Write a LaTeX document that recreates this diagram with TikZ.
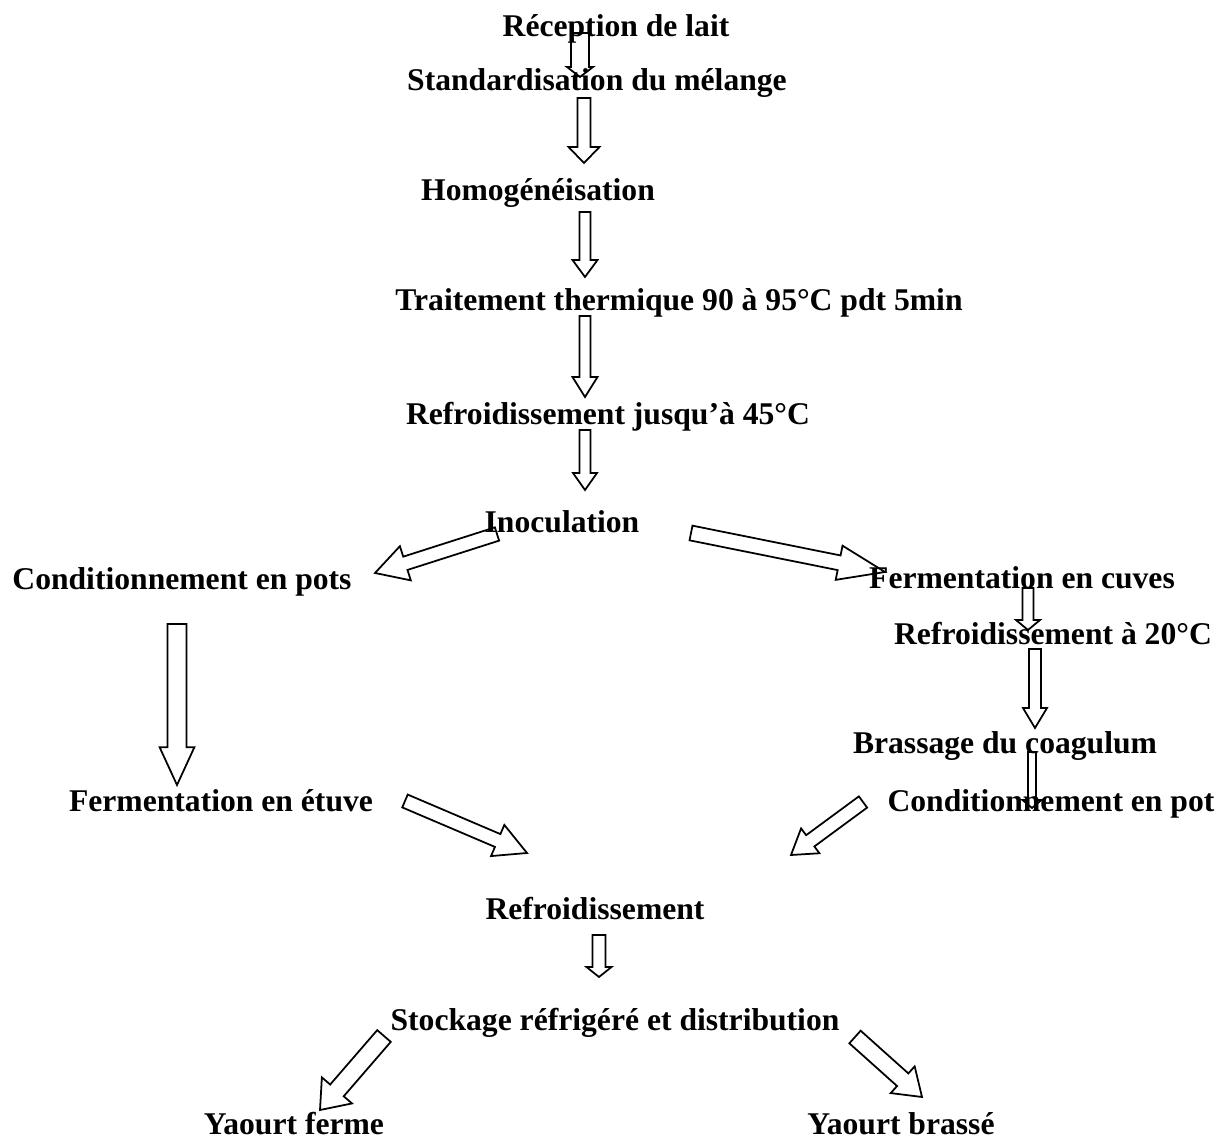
\documentclass[tikz,border=0pt]{standalone}
\usepackage{fontspec}
\setmainfont{Liberation Serif}
\usetikzlibrary{calc}
\def\pxu{0.5669pt}
% block arrow: tail, tip, shaft half width, head half width, head length (px)
\newcommand\blockarr[5]{%
  \coordinate (bh) at ($(#2)!#5*\pxu!(#1)$);
  \draw[blockarrow] ($(#1)!#3*\pxu!90:(#2)$) -- ($(bh)!#3*\pxu!-90:(#1)$)
    -- ($(bh)!#4*\pxu!-90:(#1)$) -- (#2) -- ($(bh)!#4*\pxu!90:(#1)$)
    -- ($(bh)!#3*\pxu!90:(#1)$) -- ($(#1)!#3*\pxu!-90:(#2)$) -- cycle;}
\tikzset{
  lbl/.style={anchor=base, inner sep=0pt, font=\bfseries\fontsize{18}{22}\selectfont},
  blockarrow/.style={draw=black, fill=white, line width=1pt, line join=miter}
}
\begin{document}
\begin{tikzpicture}[x=0.02cm,y=-0.02cm]
\path[use as bounding box] (0,0) rectangle (1225,1142);
% arrow end points
\coordinate (a1t) at (580,33);   \coordinate (a1p) at (580,77);
\coordinate (a2t) at (584,98);   \coordinate (a2p) at (584,163);
\coordinate (a3t) at (585,212);  \coordinate (a3p) at (585,277);
\coordinate (a4t) at (585,316);  \coordinate (a4p) at (585,397);
\coordinate (a5t) at (585,430);  \coordinate (a5p) at (585,490);
\coordinate (l1t) at (177,624);  \coordinate (l1p) at (177,785);
\coordinate (r1t) at (1028,588); \coordinate (r1p) at (1028,630);
\coordinate (r2t) at (1035,649); \coordinate (r2p) at (1035,728);
\coordinate (r3t) at (1032,752); \coordinate (r3p) at (1032,808);
\coordinate (b1t) at (599,935);  \coordinate (b1p) at (599,977);
\coordinate (d1t) at (497,534);  \coordinate (d1p) at (375,573);
\coordinate (d2t) at (691,533);  \coordinate (d2p) at (885,572);
\coordinate (d3t) at (405,801);  \coordinate (d3p) at (527,853);
\coordinate (d4t) at (863,802);  \coordinate (d4p) at (791,855);
\coordinate (d5t) at (384,1036); \coordinate (d5p) at (320,1110);
\coordinate (d6t) at (855,1037); \coordinate (d6p) at (922,1097);
% arrows
\blockarr{a1t}{a1p}{9}{13}{10}
\blockarr{a2t}{a2p}{6.5}{15.5}{16}
\blockarr{a3t}{a3p}{5.5}{12.5}{17}
\blockarr{a4t}{a4p}{5.5}{12.5}{20}
\blockarr{a5t}{a5p}{5.5}{12}{17}
\blockarr{l1t}{l1p}{9.5}{17.5}{38}
\blockarr{r1t}{r1p}{5.5}{12}{10}
\blockarr{r2t}{r2p}{6}{12}{20}
\blockarr{r3t}{r3p}{4}{9.5}{8}
\blockarr{b1t}{b1p}{6.5}{12.5}{10}
\blockarr{d1t}{d1p}{7}{18}{32}
\blockarr{d2t}{d2p}{7.5}{17.5}{47}
\blockarr{d3t}{d3p}{7}{17}{32}
\blockarr{d4t}{d4p}{7}{15.5}{24}
\blockarr{d5t}{d5p}{9}{20}{26}
\blockarr{d6t}{d6p}{8.5}{18}{26}
% texts
\node[lbl] (recep) at (616,37) {Réception de lait};
\node[lbl] (stand) at (597,91) {Standardisation du mélange};
\node[lbl] (homog) at (538,201) {Homogénéisation};
\node[lbl] (trait) at (679,311) {Traitement thermique 90 à 95°C pdt 5min};
\node[lbl] (refr45) at (608,425) {Refroidissement jusqu’à 45°C};
\node[lbl] (inoc) at (562,532) {Inoculation};
\node[lbl] (condpots) at (182,589) {Conditionnement en pots};
\node[lbl] (fermcuv) at (1022,588) {Fermentation en cuves};
\node[lbl] (refr20) at (1053,644) {Refroidissement à 20°C};
\node[lbl] (brass) at (1005,753) {Brassage du coagulum};
\node[lbl] (fermet) at (221,811) {Fermentation en étuve};
\node[lbl] (condpot) at (1051,811) {Conditionnement en pot};
\node[lbl] (refr) at (595,919) {Refroidissement};
\node[lbl] (stock) at (615,1030) {Stockage réfrigéré et distribution};
\node[lbl] (ferme) at (294,1134) {Yaourt ferme};
\node[lbl] (brasse) at (901,1134) {Yaourt brassé};
\end{tikzpicture}
\end{document}
